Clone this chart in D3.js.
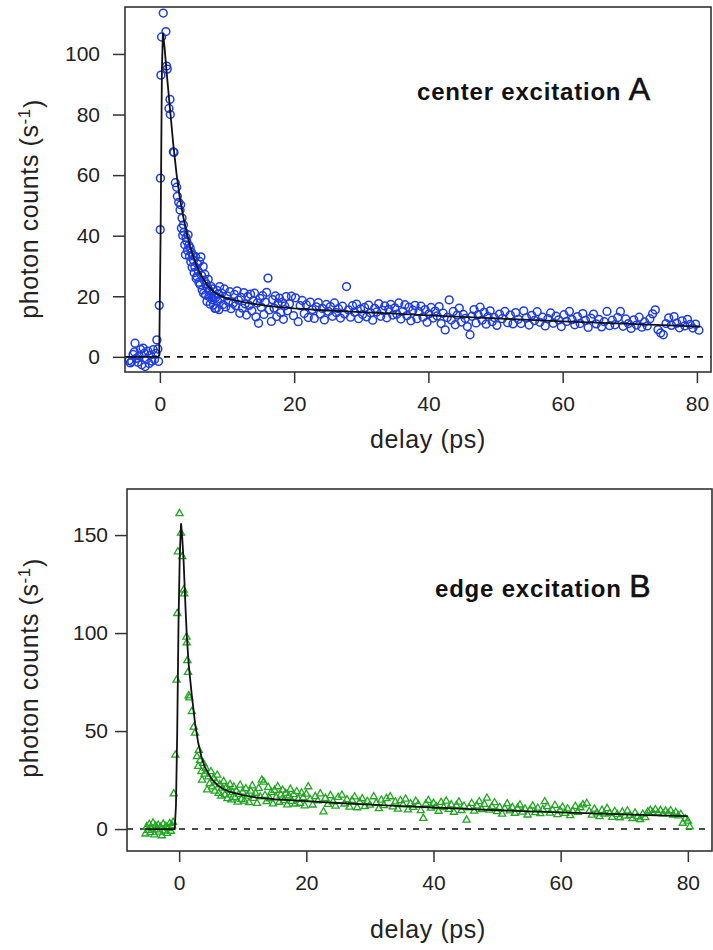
<!DOCTYPE html>
<html>
<head>
<meta charset="utf-8">
<script src="https://cdn.jsdelivr.net/npm/d3@7"></script>
<style>
  body { margin: 0; background: #fff; }
  text { font-family: "Liberation Sans", Arial, sans-serif; }
</style>
</head>
<body>
<svg id="chart" width="713" height="950"></svg>
<script>
// panel A: center excitation (delay ps, photon counts s^-1)
var centerPoints = [
  [-4.6,-1.2],[-4.4,-2.0],[-4.2,-1.5],[-4.0,0.8],[-3.8,1.6],[-3.7,4.5],[-3.5,-0.5],[-3.3,-1.8],[-3.1,0.3],[-2.9,2.5],
  [-2.7,-2.6],[-2.5,2.9],[-2.3,1.2],[-2.2,-3.2],[-2.0,-0.8],[-1.8,1.9],[-1.6,-2.2],[-1.4,0.6],[-1.2,-1.4],[-1.0,2.4],
  [-0.8,-0.9],[-0.6,1.1],[-0.45,5.6],[-0.3,2.6],[-0.2,-1.5],
  [-0.1,17.0],[0.05,42.0],[0.08,59.0],[0.15,93.0],[0.25,105.6],[0.5,113.5],[0.9,107.4],[1.0,96.0],[1.1,95.0],[1.35,82.0],
  [1.5,85.0],[1.55,80.0],[2.0,67.7],[2.1,67.5],[2.3,57.5],[2.5,56.0],[2.6,53.0],[2.8,51.0],
  [3.0,48.5],[3.1,50.2],[3.2,42.5],[3.3,45.8],[3.4,40.1],[3.5,43.6],[3.6,41.2],[3.7,37.0],[3.8,33.7],[3.9,39.4],
  [4.0,38.2],[4.1,35.1],[4.2,40.3],[4.3,36.8],[4.4,33.2],[4.5,36.0],[4.6,31.4],[4.7,34.5],[4.8,29.6],[4.9,33.7],
  [5.0,31.9],[5.1,27.8],[5.2,29.8],[5.3,33.1],[5.4,25.9],[5.5,26.5],[5.6,30.7],[5.7,28.4],[5.8,24.6],[5.9,31.5],
  [6.0,23.8],[6.1,33.0],[6.2,26.9],[6.3,22.1],[6.45,29.8],[6.5,21.0],[6.6,25.3],[6.7,27.2],[6.8,20.4],[6.9,24.1],
  [7.0,18.3],[7.1,22.7],[7.2,25.6],[7.3,19.9],[7.4,21.8],[7.5,17.4],[7.6,23.3],[7.7,20.6],[7.8,18.9],[7.9,22.4],
  [8.0,17.1],[8.1,20.0],[8.2,16.0],[8.3,19.5],[8.4,16.0],[8.5,21.9],[8.6,18.4],[8.7,20.8],[8.8,15.6],[8.9,23.2],
  [9.0,19.1],[9.2,21.0],[9.4,17.3],[9.6,22.4],[9.8,16.5],[10.0,20.1],[10.2,18.2],[10.4,21.5],[10.6,15.9],[10.9,17.7],
  [11.1,20.6],[11.3,16.9],[11.5,21.8],[11.7,18.7],[11.9,14.4],[12.1,19.6],[12.3,16.1],[12.5,21.2],[12.7,17.5],[12.9,13.8],
  [13.1,19.9],[13.3,17.0],[13.5,20.7],[13.7,15.2],[13.9,18.5],[14.1,21.0],[14.3,13.2],[14.5,17.8],[14.7,11.1],[14.9,19.3],
  [15.1,16.4],[15.3,20.2],[15.5,14.0],[15.7,18.1],[15.9,21.3],[16.1,26.0],[16.3,15.5],[16.6,11.7],[16.8,18.9],[17.0,16.1],
  [17.2,20.1],[17.4,13.3],[17.6,17.6],[17.8,19.4],[18.0,14.6],[18.2,18.0],[18.4,12.4],[18.6,16.8],[18.8,19.9],[19.0,15.2],
  [19.3,17.5],[19.6,20.0],[19.9,13.6],[20.2,19.5],[20.6,11.6],[20.9,16.9],[21.2,18.6],[21.5,14.3],[21.8,17.2],[22.1,13.0],
  [22.4,18.1],[22.7,15.6],[23.0,12.7],[23.3,16.5],[23.6,17.9],[23.9,14.1],[24.2,16.0],[24.5,12.2],[24.8,17.3],[25.1,15.0],
  [25.4,16.6],[25.7,13.4],[26.0,17.8],[26.3,14.6],[26.6,15.9],[26.9,12.8],[27.2,16.7],[27.5,14.2],[27.8,23.2],[28.1,15.5],
  [28.4,13.1],[28.7,16.9],[29.0,14.7],[29.3,17.4],[29.6,12.6],[29.9,15.8],[30.2,14.0],[30.5,16.3],[30.8,13.2],[31.1,17.1],
  [31.4,14.5],[31.7,12.1],[32.0,16.0],[32.3,14.8],[32.6,17.6],[32.9,13.4],[33.2,15.3],[33.5,16.8],[33.8,12.9],[34.1,15.7],
  [34.4,17.3],[34.7,13.8],[35.0,16.2],[35.3,14.1],[35.6,17.8],[35.9,12.5],[36.2,15.0],[36.5,17.2],[36.8,13.6],[37.1,16.4],
  [37.4,11.9],[37.7,15.4],[38.0,17.0],[38.3,12.6],[38.6,14.9],[38.9,16.7],[39.2,13.1],[39.5,15.6],[39.8,11.4],[40.1,14.2],
  [40.4,16.3],[40.7,12.8],[41.0,15.1],[41.3,13.5],[41.6,16.6],[41.9,11.0],[42.2,14.4],[42.5,8.9],[42.8,13.0],[43.1,18.8],
  [43.4,12.2],[43.7,15.0],[44.0,10.6],[44.3,13.8],[44.6,16.1],[44.9,11.5],[45.2,14.0],[45.5,12.7],[45.8,10.0],[46.2,7.3],
  [46.5,13.4],[46.8,15.6],[47.1,11.2],[47.4,13.9],[47.7,16.4],[48.0,12.1],[48.3,14.7],[48.6,10.8],[48.9,13.3],[49.2,15.2],
  [49.5,11.6],[49.8,13.0],[50.2,10.4],[50.6,14.1],[51.0,12.6],[51.4,15.0],[51.8,11.3],[52.2,13.8],[52.6,10.9],[53.0,14.6],
  [53.4,12.4],[53.8,11.0],[54.2,15.2],[54.6,12.9],[55.0,10.5],[55.4,13.7],[55.8,12.0],[56.2,14.9],[56.6,11.4],[57.0,13.1],
  [57.4,10.2],[57.8,12.6],[58.2,14.5],[58.6,11.1],[59.0,13.4],[59.4,12.2],[59.8,10.0],[60.2,13.9],[60.6,11.7],[61.0,15.0],
  [61.4,12.3],[61.8,10.6],[62.2,13.3],[62.6,11.0],[63.0,14.3],[63.4,12.0],[63.8,9.7],[64.2,12.8],[64.6,14.1],[65.0,10.9],
  [65.4,12.4],[65.8,9.9],[66.2,11.6],[66.6,15.0],[67.0,10.3],[67.4,12.1],[67.8,10.6],[68.2,13.0],[68.6,15.0],[69.0,10.1],
  [69.4,12.5],[69.8,11.0],[70.2,9.4],[70.6,12.2],[71.0,10.5],[71.4,13.1],[71.8,9.8],[72.2,11.5],[72.6,10.2],[73.0,12.6],
  [73.4,14.2],[73.8,15.5],[74.2,9.0],[74.6,7.9],[75.0,7.3],[75.4,11.0],[75.8,12.9],[76.2,10.4],[76.6,13.3],[77.0,11.1],
  [77.4,9.6],[77.8,11.9],[78.2,10.2],[78.6,12.4],[79.0,10.7],[79.4,9.5],[79.8,10.8],[80.3,8.8]
];
var centerFit = [
  [-5.0,0],[-0.25,0],[-0.1,0.5],[0.1,40],[0.3,95],[0.45,107],[0.7,102],[1.0,94],[1.5,82],[2.0,70],[2.5,60],[3.0,52],
  [3.5,46],[4.0,41],[4.5,36.5],[5.0,33],[5.5,30],[6.0,27.5],[7.0,23.8],[8.0,21.5],[9.0,20.2],[10,19.3],[12,18.2],
  [14,17.5],[16,16.8],[18,16.4],[20,16],[25,15.3],[30,14.8],[35,14.3],[40,13.7],[45,13.2],[50,12.7],[55,12.2],
  [60,11.7],[65,11.3],[70,10.9],[75,10.5],[80.5,10]
];

// panel B: edge excitation
var edgePoints = [
  [-5.3,-2.5],[-5.1,1.2],[-4.9,-0.6],[-4.7,2.4],[-4.5,-1.8],[-4.3,0.5],[-4.1,3.1],[-3.9,-2.9],[-3.7,1.6],[-3.5,-0.4],
  [-3.3,2.0],[-3.1,-1.5],[-2.9,0.9],[-2.7,-3.4],[-2.5,2.6],[-2.3,-0.9],[-2.1,1.3],[-1.9,-2.2],[-1.7,0.2],[-1.5,2.8],
  [-1.3,-1.1],[-1.1,1.7],[-0.95,3.5],
  [-0.85,18],[-0.6,37.7],[-0.4,76],[-0.3,110],[-0.2,141.5],[0.05,161],[0.3,151],[0.5,139],[0.7,122],[0.8,120],
  [1.15,98],[1.2,95],[1.3,86],[1.4,80],[1.5,68],[1.6,67],[2.0,60],[2.3,52],[2.5,49],
  [2.8,37.0],[3.0,32.0],[3.1,40.2],[3.3,35.1],[3.5,29.4],[3.6,25.0],[3.8,33.6],[4.0,28.1],[4.2,31.0],[4.4,20.0],
  [4.6,26.7],[4.8,23.2],[5.0,29.3],[5.2,21.5],[5.4,25.8],[5.6,19.4],[5.8,24.1],[6.0,27.5],[6.2,18.2],[6.4,22.6],
  [6.6,16.8],[6.8,20.9],[7.0,24.3],[7.2,17.5],[7.4,21.2],[7.6,15.6],[7.8,19.8],[8.0,22.7],[8.2,14.9],[8.4,18.6],
  [8.6,21.5],[8.8,16.1],[9.0,19.3],[9.2,13.8],[9.4,17.7],[9.6,22.4],[9.8,15.2],[10.0,18.9],[10.25,14.3],[10.5,20.6],
  [10.75,16.8],[11.0,13.5],[11.25,19.4],[11.5,22.1],[11.75,15.7],[12.0,18.3],[12.25,13.1],[12.5,20.8],[12.75,16.4],[13.0,25.0],
  [13.3,24.0],[13.5,17.2],[13.75,14.0],[14.0,21.3],[14.25,15.5],[14.5,18.7],[14.75,12.9],[15.0,19.8],[15.25,16.1],[15.5,21.6],
  [15.75,13.7],[16.0,17.4],[16.25,19.9],[16.5,14.6],[16.75,18.2],[17.0,12.4],[17.25,16.9],[17.5,20.3],[17.75,14.2],[18.0,17.6],
  [18.25,12.8],[18.5,19.1],[18.75,15.3],[19.0,13.2],[19.25,18.4],[19.5,16.0],[19.75,11.9],[20.0,17.8],[20.3,21.6],[20.6,15.1],
  [21.0,12.3],[21.4,16.6],[21.8,14.4],[22.2,18.0],[22.7,8.8],[23.0,15.7],[23.4,12.6],[23.8,17.1],[24.2,13.9],[24.6,11.7],
  [25.0,16.2],[25.6,17.3],[26.0,12.8],[26.4,15.0],[26.8,11.2],[27.2,14.6],[27.6,16.4],[28.0,10.9],[28.4,13.8],[28.8,15.5],
  [29.2,11.5],[29.6,14.1],[30.0,12.2],[30.6,16.5],[31.0,13.3],[31.4,10.4],[31.8,14.8],[32.2,12.0],[32.6,15.6],[33.2,16.5],
  [33.6,11.3],[34.0,13.9],[34.4,10.2],[34.8,14.5],[35.2,12.4],[35.6,15.3],[36.0,9.8],[36.4,13.0],[36.8,11.1],[37.2,14.2],
  [37.6,12.5],[38.0,9.4],[38.4,5.5],[38.8,12.8],[39.2,14.6],[39.6,10.7],[40.0,13.2],[40.4,11.5],[40.8,9.1],[41.2,13.6],
  [41.6,11.0],[42.0,14.3],[42.4,10.1],[42.8,12.4],[43.2,8.6],[43.6,12.0],[44.0,13.8],[44.4,9.5],[44.8,11.7],[45.2,4.6],
  [45.6,10.8],[46.0,13.1],[46.4,9.2],[46.8,11.9],[47.2,14.0],[47.6,10.0],[48.0,12.6],[48.4,15.8],[48.8,9.7],[49.2,11.4],
  [49.6,13.5],[50.0,8.9],[50.4,11.1],[50.8,7.6],[51.2,10.5],[51.6,12.9],[52.0,9.3],[52.4,11.0],[52.8,8.1],[53.2,10.6],
  [53.6,12.3],[54.0,8.7],[54.4,10.2],[54.8,7.2],[55.2,9.9],[55.6,11.8],[56.0,8.4],[56.4,10.7],[56.8,7.9],[57.2,10.0],
  [57.5,14.0],[57.9,11.5],[58.3,8.2],[58.7,9.8],[59.1,12.1],[59.5,7.4],[59.9,9.5],[60.3,11.2],[60.7,8.0],[61.1,10.3],
  [61.5,6.9],[61.9,9.1],[62.3,11.6],[62.7,8.6],[63.1,10.9],[63.5,12.4],[64.1,13.1],[64.5,9.0],[64.9,7.1],[65.3,10.2],
  [65.7,8.3],[66.1,6.4],[66.5,9.6],[66.9,7.7],[67.3,10.5],[67.7,8.1],[68.1,6.0],[68.5,9.0],[68.9,7.5],[69.3,5.8],
  [69.7,8.7],[70.1,6.6],[70.5,9.3],[70.9,7.0],[71.3,5.4],[71.7,8.2],[72.1,6.3],[72.5,4.9],[72.9,7.6],[73.3,5.9],
  [73.7,8.8],[74.1,9.6],[74.5,8.4],[74.9,9.9],[75.3,8.1],[75.7,9.5],[76.1,7.8],[76.5,9.2],[76.9,8.0],[77.3,9.4],
  [77.7,7.2],[78.1,8.5],[78.5,6.8],[78.9,7.5],[79.2,3.0],[79.6,5.2],[80.0,4.1],[80.3,1.2]
];
var edgeFit = [
  [-5.3,0],[-0.7,0],[-0.5,12],[-0.3,50],[-0.1,105],[0.1,140],[0.3,156],[0.5,148],[0.7,137],[1.0,113],[1.2,99],
  [1.5,84],[2.0,68],[2.5,54],[3.0,44],[3.5,37],[4.0,32],[5,26],[6,22.5],[7,20.3],[8,19],[10,17.3],[12,16.2],
  [15,15.2],[20,14.2],[25,13.3],[30,12.5],[35,11.7],[40,11],[45,10.3],[50,9.6],[55,9],[60,8.5],[65,8],
  [70,7.5],[75,7],[80,6.6]
];

var xTicks = [0, 20, 40, 60, 80];
var yTicksA = [0, 20, 40, 60, 80, 100];
var yTicksB = [0, 50, 100, 150];

var svg = d3.select("#chart");

function drawPanel(opt) {
  var x = d3.scaleLinear().domain(opt.xDomain).range([opt.left, opt.right]);
  var y = d3.scaleLinear().domain(opt.yDomain).range([opt.bottom, opt.top]);
  var g = svg.append("g");

  // x axis
  var xa = g.append("g")
      .attr("transform", "translate(0," + opt.bottom + ")")
      .call(d3.axisBottom(x).tickValues(xTicks).tickSize(11).tickPadding(13));
  // y axis
  var ya = g.append("g")
      .attr("transform", "translate(" + opt.left + ",0)")
      .call(d3.axisLeft(y).tickValues(opt.yTicks).tickSize(12).tickPadding(opt.yPad));
  [xa, ya].forEach(function (a) {
    a.select(".domain").remove();
    a.selectAll(".tick line").attr("stroke", "#333").attr("stroke-width", 1.5);
    a.selectAll(".tick text")
      .style("font-family", "Liberation Sans, Arial, sans-serif")
      .style("font-size", "21px")
      .attr("fill", "#222");
  });

  // zero line
  g.append("line")
      .attr("x1", opt.left).attr("x2", opt.right)
      .attr("y1", y(0)).attr("y2", y(0))
      .attr("stroke", "#111")
      .attr("stroke-width", 1.6)
      .attr("stroke-dasharray", "6,7");

  // data
  if (opt.marker == "circle") {
    g.append("g").selectAll("circle")
        .data(opt.points)
        .enter().append("circle")
        .attr("cx", function (d) { return x(d[0]); })
        .attr("cy", function (d) { return y(d[1]); })
        .attr("r", 3.9)
        .attr("fill", "none")
        .attr("stroke", opt.color)
        .attr("stroke-width", 1.5);
  } else {
    var tri = d3.symbol().type(d3.symbolTriangle).size(22);
    g.append("g").selectAll("path")
        .data(opt.points)
        .enter().append("path")
        .attr("d", tri)
        .attr("transform", function (d) { return "translate(" + x(d[0]) + "," + y(d[1]) + ")"; })
        .attr("fill", "none")
        .attr("stroke", opt.color)
        .attr("stroke-width", 1.3);
  }

  // fit
  g.append("path")
      .datum(opt.fit)
      .attr("d", d3.line().x(function (d) { return x(d[0]); }).y(function (d) { return y(d[1]); }))
      .attr("fill", "none")
      .attr("stroke", "#111")
      .attr("stroke-width", 1.8);

  // frame
  g.append("rect")
      .attr("x", opt.left).attr("y", opt.top)
      .attr("width", opt.right - opt.left)
      .attr("height", opt.bottom - opt.top)
      .attr("fill", "none")
      .attr("stroke", "#333")
      .attr("stroke-width", 1.6);

  // axis titles
  g.append("text")
      .attr("x", 428).attr("y", opt.bottom + opt.xLabelOff)
      .style("font-size", "25px")
      .style("letter-spacing", "0.6px")
      .attr("fill", "#222")
      .attr("text-anchor", "middle")
      .text("delay (ps)");

  var yl = g.append("text")
      .attr("transform", "translate(38," + opt.yLabelY + ") rotate(-90)")
      .style("font-size", "25px")
      .style("letter-spacing", "0.6px")
      .attr("fill", "#222")
      .attr("text-anchor", "middle");
  yl.append("tspan").text("photon counts (s");
  yl.append("tspan").attr("dy", "-0.45em").style("font-size", "17px").text("-1");
  yl.append("tspan").attr("dy", "0.45em").text(")");

  // panel label
  var t = g.append("text")
      .attr("x", opt.titleX).attr("y", opt.titleY)
      .attr("fill", "#111")
      .style("font-weight", "bold")
      .style("font-size", "24px")
      .style("letter-spacing", "0.8px");
  t.append("tspan").text(opt.title + " ");
  t.append("tspan").style("font-size", "32px").style("font-weight", "normal").style("stroke", "#111").style("stroke-width", 0.6).text(opt.letter);
}

drawPanel({
  left: 125, right: 711, top: 7, bottom: 372,
  xDomain: [-5.2, 82.1], yDomain: [-5, 115.5],
  yTicks: yTicksA, yPad: 13, yLabelY: 209, xLabelOff: 76,
  points: centerPoints, fit: centerFit, marker: "circle", color: "#1e3ce0",
  title: "center excitation", letter: "A", titleX: 417, titleY: 100
});

drawPanel({
  left: 127, right: 712, top: 489, bottom: 851,
  xDomain: [-8.2, 83.8], yDomain: [-11.2, 173.5],
  yTicks: yTicksB, yPad: 7, yLabelY: 668, xLabelOff: 87,
  points: edgePoints, fit: edgeFit, marker: "triangle", color: "#22a622",
  title: "edge excitation", letter: "B", titleX: 435, titleY: 597
});
</script>
</body>
</html>
